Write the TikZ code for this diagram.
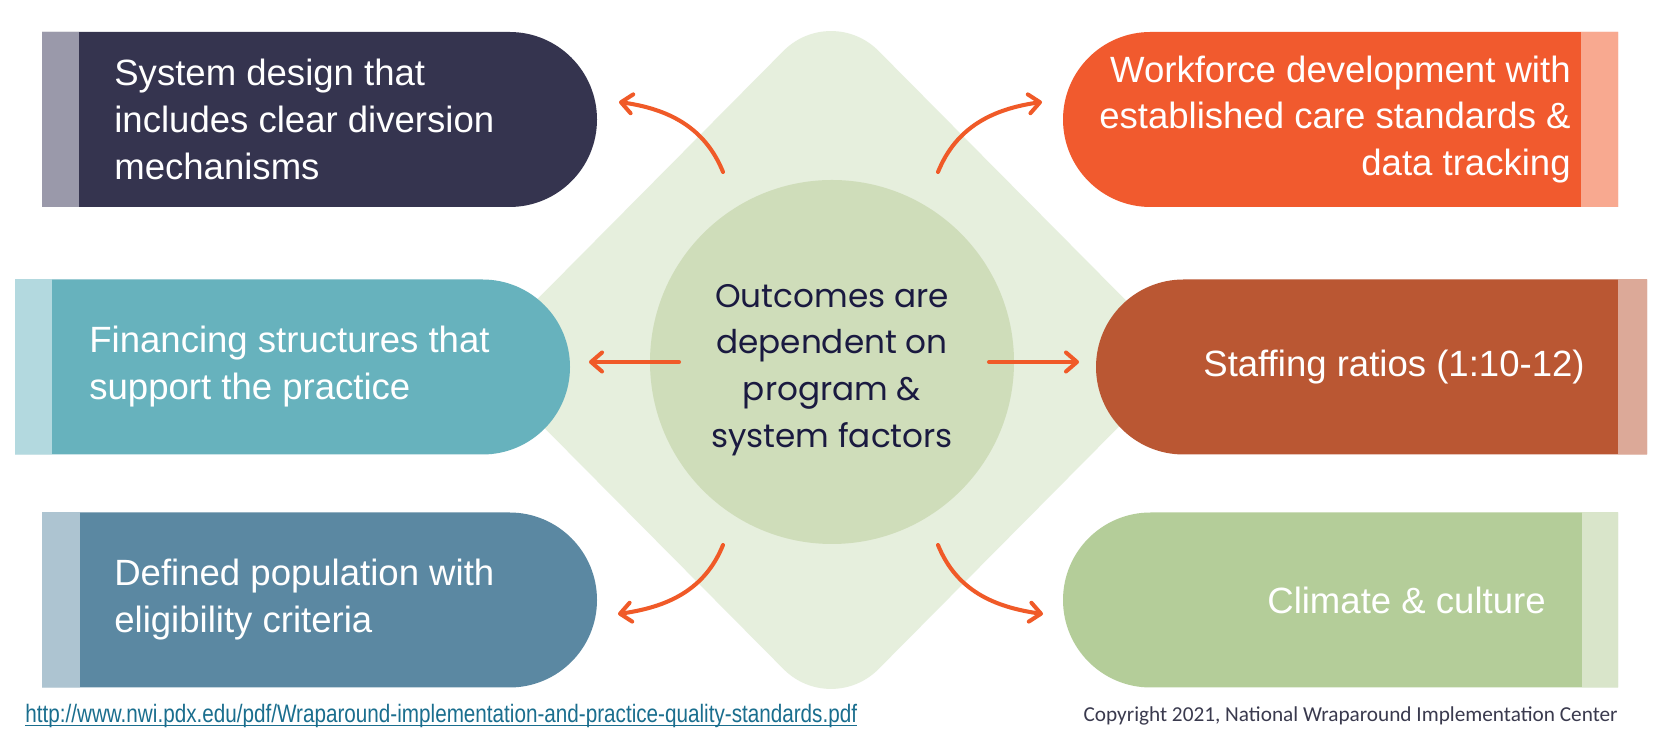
\documentclass[tikz,border=0pt]{standalone}
\usepackage{fontspec}
\setmainfont{Liberation Sans}
\newfontfamily\corefont{Poppins}
\newfontfamily\linkfont[FakeStretch=0.82]{Liberation Sans}
\newfontfamily\notefont{Carlito}
\usetikzlibrary{positioning, arrows.meta}
\def\NavyColor{rgb,255:red,53;green,52;blue,79}
\def\NavyStripColor{rgb,255:red,154;green,153;blue,170}
\def\OrangeColor{rgb,255:red,241;green,90;blue,46}
\def\OrangeStripColor{rgb,255:red,248;green,169;blue,144}
\def\TealColor{rgb,255:red,103;green,178;blue,189}
\def\TealStripColor{rgb,255:red,179;green,217;blue,223}
\def\RustColor{rgb,255:red,186;green,87;blue,51}
\def\RustStripColor{rgb,255:red,220;green,169;blue,152}
\def\SlateColor{rgb,255:red,91;green,136;blue,162}
\def\SlateStripColor{rgb,255:red,173;green,196;blue,209}
\def\GreenColor{rgb,255:red,180;green,205;blue,153}
\def\GreenStripColor{rgb,255:red,217;green,229;blue,202}
\def\DiamondColor{rgb,255:red,230;green,239;blue,221}
\def\CoreColor{rgb,255:red,207;green,221;blue,186}
\def\CoreTextColor{rgb,255:red,26;green,26;blue,64}
\def\ArrowColor{rgb,255:red,240;green,90;blue,40}
\def\LinkColor{rgb,255:red,26;green,110;blue,142}
\def\NoteColor{rgb,255:red,58;green,58;blue,78}

\begin{document}
\begin{tikzpicture}[
    boxtext/.style={text=white, inner sep=0pt, font=\fontsize{20.8}{26.7}\selectfont},
    lefttext/.style={boxtext, anchor=west, align=left},
    righttext/.style={boxtext, anchor=east, align=right},
    outarrow/.style={-{Straight Barb[length=2.2mm, width=3.8mm, round]}, line width=2.3pt, line cap=round, color=\ArrowColor}
]
\useasboundingbox[fill=white] (0,0) rectangle (33.12,14.76);

%%%%%%%%%%%%%%%%%%%%%%%%%%%%%%%%%%%%%%%%%%%%%%%%%%%%%%%%%%%%%%%%%%%
% Background diamond and core circle
%%%%%%%%%%%%%%%%%%%%%%%%%%%%%%%%%%%%%%%%%%%%%%%%%%%%%%%%%%%%%%%%%%%
\fill[fill=\DiamondColor, rounded corners=1.35cm] (16.62,14.70) -- (23.70,7.56) -- (16.62,0.42) -- (9.54,7.56) -- cycle;

\node[circle, fill=\CoreColor, minimum size=7.28cm, inner sep=0pt] (core) at (16.64,7.52) {};
\node[align=center, inner sep=0pt, text=\CoreTextColor, font=\corefont\fontsize{18.6}{26.6}\selectfont] (coretext) at (16.64,7.36)
    {Outcomes are\\dependent on\\program \&\\system factors};

%%%%%%%%%%%%%%%%%%%%%%%%%%%%%%%%%%%%%%%%%%%%%%%%%%%%%%%%%%%%%%%%%%%
% Left column
%%%%%%%%%%%%%%%%%%%%%%%%%%%%%%%%%%%%%%%%%%%%%%%%%%%%%%%%%%%%%%%%%%%

% System design
\fill[fill=\NavyColor] (0.84,14.12) -- (10.19,14.12) arc[start angle=90, end angle=-90, radius=1.75] -- (0.84,10.62) -- cycle;
\fill[fill=\NavyStripColor] (0.84,10.62) rectangle (1.58,14.12);
\node[lefttext] (sysdesign) at (2.28,12.37) {System design that\\includes clear diversion\\mechanisms};

% Financing
\fill[fill=\TealColor] (0.30,9.17) -- (9.65,9.17) arc[start angle=90, end angle=-90, radius=1.75] -- (0.30,5.67) -- cycle;
\fill[fill=\TealStripColor] (0.30,5.67) rectangle (1.04,9.17);
\node[lefttext] (finance) at (1.78,7.42) {Financing structures that\\support the practice};

% Defined population
\fill[fill=\SlateColor] (0.84,4.51) -- (10.19,4.51) arc[start angle=90, end angle=-90, radius=1.75] -- (0.84,1.01) -- cycle;
\fill[fill=\SlateStripColor] (0.84,1.01) rectangle (1.60,4.51);
\node[lefttext] (population) at (2.28,2.76) {Defined population with\\eligibility criteria};

%%%%%%%%%%%%%%%%%%%%%%%%%%%%%%%%%%%%%%%%%%%%%%%%%%%%%%%%%%%%%%%%%%%
% Right column
%%%%%%%%%%%%%%%%%%%%%%%%%%%%%%%%%%%%%%%%%%%%%%%%%%%%%%%%%%%%%%%%%%%

% Workforce
\fill[fill=\OrangeColor] (32.36,14.12) -- (23.01,14.12) arc[start angle=90, end angle=270, radius=1.75] -- (32.36,10.62) -- cycle;
\fill[fill=\OrangeStripColor] (31.62,10.62) rectangle (32.36,14.12);
\node[righttext] (workforce) at (31.42,12.37) {Workforce development with\\established care standards \&\\data tracking};

% Staffing
\fill[fill=\RustColor] (32.94,9.17) -- (23.67,9.17) arc[start angle=90, end angle=270, radius=1.75] -- (32.94,5.67) -- cycle;
\fill[fill=\RustStripColor] (32.36,5.67) rectangle (32.94,9.17);
\node[righttext] (staffing) at (31.70,7.42) {Staffing ratios (1:10-12)};

% Climate
\fill[fill=\GreenColor] (32.36,4.51) -- (23.01,4.51) arc[start angle=90, end angle=270, radius=1.75] -- (32.36,1.01) -- cycle;
\fill[fill=\GreenStripColor] (31.64,1.01) rectangle (32.36,4.51);
\node[righttext] (climate) at (30.92,2.76) {Climate \& culture};

%%%%%%%%%%%%%%%%%%%%%%%%%%%%%%%%%%%%%%%%%%%%%%%%%%%%%%%%%%%%%%%%%%%
% Arrows
%%%%%%%%%%%%%%%%%%%%%%%%%%%%%%%%%%%%%%%%%%%%%%%%%%%%%%%%%%%%%%%%%%%
\coordinate (ul_start) at (14.46,11.32);
\coordinate (ul_end) at (12.38,12.72);
\coordinate (ur_start) at (18.76,11.32);
\coordinate (ur_end) at (20.84,12.72);
\coordinate (ml_start) at (13.58,7.52);
\coordinate (ml_end) at (11.78,7.52);
\coordinate (mr_start) at (19.78,7.52);
\coordinate (mr_end) at (21.58,7.52);
\coordinate (ll_start) at (14.46,3.86);
\coordinate (ll_end) at (12.36,2.48);
\coordinate (lr_start) at (18.76,3.86);
\coordinate (lr_end) at (20.86,2.48);

\draw[outarrow] (ul_start) to[out=112, in=-8] (ul_end);
\draw[outarrow] (ur_start) to[out=68, in=188] (ur_end);
\draw[outarrow] (ml_start) -- (ml_end);
\draw[outarrow] (mr_start) -- (mr_end);
\draw[outarrow] (ll_start) to[out=-112, in=8] (ll_end);
\draw[outarrow] (lr_start) to[out=-68, in=172] (lr_end);

%%%%%%%%%%%%%%%%%%%%%%%%%%%%%%%%%%%%%%%%%%%%%%%%%%%%%%%%%%%%%%%%%%%
% Footer
%%%%%%%%%%%%%%%%%%%%%%%%%%%%%%%%%%%%%%%%%%%%%%%%%%%%%%%%%%%%%%%%%%%
\node[anchor=base west, inner sep=0pt, text=\LinkColor, font=\linkfont\fontsize{14.35}{16}\selectfont] (source) at (0.50,0.30)
    {http://www.nwi.pdx.edu/pdf/Wraparound-implementation-and-practice-quality-standards.pdf};
\draw[color=\LinkColor, line width=0.7pt] ([yshift=-1.6pt]source.base west) -- ([yshift=-1.6pt]source.base east);
\node[anchor=base east, inner sep=0pt, text=\NoteColor, font=\notefont\fontsize{12.1}{14}\selectfont] (copyright) at (32.36,0.32)
    {Copyright 2021, National Wraparound Implementation Center};

\end{tikzpicture}
\end{document}
